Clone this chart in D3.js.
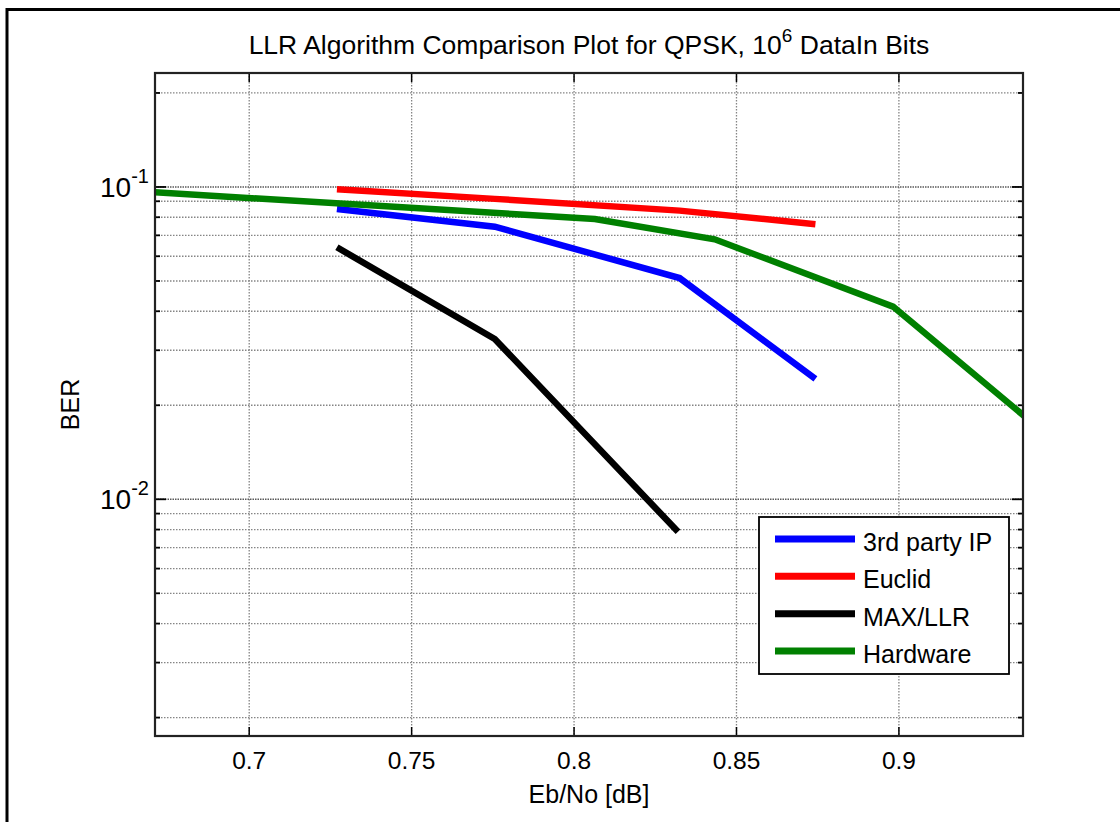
<!DOCTYPE html>
<html>
<head>
<meta charset="utf-8">
<script src="https://cdn.jsdelivr.net/npm/d3@7"></script>
<style>
  html, body { margin: 0; padding: 0; background: #fff; }
  svg { display: block; }
  text { font-family: "Liberation Sans", Arial, Helvetica, sans-serif; fill: #000; }
</style>
</head>
<body>
<svg id="chart" width="1120" height="822"></svg>
<script>
// BER measurements per LLR algorithm
const ipX = [0.7270, 0.7756, 0.8325, 0.8743];
const ipY = [0.0850, 0.0746, 0.0511, 0.0243];

const euclidX = [0.7270, 0.7756, 0.8325, 0.8743];
const euclidY = [0.0983, 0.0916, 0.0840, 0.0760];

const maxLlrX = [0.7270, 0.7756, 0.8320];
const maxLlrY = [0.0641, 0.0326, 0.00787];

const hardwareX = [0.6500, 0.8064, 0.8433, 0.8982, 0.9500];
const hardwareY = [0.0991, 0.0790, 0.0680, 0.0414, 0.0147];

const seriesNames = ["3rd party IP", "Euclid", "MAX/LLR", "Hardware"];
const seriesColors = ["#0000ff", "#ff0000", "#000000", "#008000"];

const xTicks = [0.7, 0.75, 0.8, 0.85, 0.9];
const xTickLabels = ["0.7", "0.75", "0.8", "0.85", "0.9"];
const yMajorTicks = [0.01, 0.1];
const yMajorExponents = ["-2", "-1"];
const yMinorTicks = [0.002, 0.003, 0.004, 0.005, 0.006, 0.007, 0.008, 0.009,
                     0.02, 0.03, 0.04, 0.05, 0.06, 0.07, 0.08, 0.09, 0.2];

const titleMain = "LLR Algorithm Comparison Plot for QPSK, 10";
const titleSup = "6";
const titleTail = " DataIn Bits";
const xLabel = "Eb/No [dB]";
const yLabel = "BER";

const svg = d3.select("#chart");
const W = 1120, H = 822;
const box = { left: 155, top: 73, right: 1023, bottom: 736 };

// figure frame
svg.append("rect")
  .attr("x", 7).attr("y", 9.5)
  .attr("width", W + 20).attr("height", H + 20)
  .attr("fill", "#fff").attr("stroke", "#000").attr("stroke-width", 3);

const x = d3.scaleLinear().domain([0.6710, 0.9382]).range([box.left, box.right]);
const y = d3.scaleLog().domain([0.001746, 0.2317]).range([box.bottom, box.top]);

// grid
const grid = svg.append("g");
grid.selectAll("line.vx").data(xTicks).join("line")
  .attr("x1", d => x(d)).attr("x2", d => x(d))
  .attr("y1", box.top).attr("y2", box.bottom)
  .attr("stroke", "#858585").attr("stroke-width", 1.3).attr("stroke-dasharray", "1.5,1.5");
grid.selectAll("line.hm").data(yMinorTicks).join("line")
  .attr("x1", box.left).attr("x2", box.right)
  .attr("y1", d => y(d)).attr("y2", d => y(d))
  .attr("stroke", "#858585").attr("stroke-width", 1.3).attr("stroke-dasharray", "1.5,1.5");
grid.selectAll("line.hM").data(yMajorTicks).join("line")
  .attr("x1", box.left).attr("x2", box.right)
  .attr("y1", d => y(d)).attr("y2", d => y(d))
  .attr("stroke", "#5a5a5a").attr("stroke-width", 1.5).attr("stroke-dasharray", "1.5,1");

// data lines
svg.append("clipPath").attr("id", "plotClip")
  .append("rect").attr("x", box.left).attr("y", box.top)
  .attr("width", box.right - box.left).attr("height", box.bottom - box.top);

const allSeries = [
  { xs: ipX, ys: ipY },
  { xs: euclidX, ys: euclidY },
  { xs: maxLlrX, ys: maxLlrY },
  { xs: hardwareX, ys: hardwareY }
];
const line = d3.line().x(d => x(d[0])).y(d => y(d[1]));
const plot = svg.append("g").attr("clip-path", "url(#plotClip)");
allSeries.forEach((s, i) => {
  plot.append("path")
    .datum(s.xs.map((v, k) => [v, s.ys[k]]))
    .attr("d", line)
    .attr("fill", "none")
    .attr("stroke", seriesColors[i])
    .attr("stroke-width", 6.5)
    .attr("stroke-linejoin", "miter")
    .attr("stroke-linecap", "butt");
});

// axes (box on, ticks inward on all four sides)
const axisG = svg.append("g");
const majorLen = 9, minorLen = 5;
axisG.selectAll("line.xb").data(xTicks).join("line")
  .attr("x1", d => x(d)).attr("x2", d => x(d))
  .attr("y1", box.bottom).attr("y2", box.bottom - majorLen)
  .attr("stroke", "#000").attr("stroke-width", 1.5);
axisG.selectAll("line.xt").data(xTicks).join("line")
  .attr("x1", d => x(d)).attr("x2", d => x(d))
  .attr("y1", box.top).attr("y2", box.top + majorLen)
  .attr("stroke", "#000").attr("stroke-width", 1.5);
[[box.left, 1], [box.right, -1]].forEach(([x0, dir]) => {
  axisG.selectAll(null).data(yMajorTicks).join("line")
    .attr("x1", x0).attr("x2", x0 + dir * 11)
    .attr("y1", d => y(d)).attr("y2", d => y(d))
    .attr("stroke", "#000").attr("stroke-width", 1.8);
  axisG.selectAll(null).data(yMinorTicks).join("line")
    .attr("x1", x0).attr("x2", x0 + dir * minorLen)
    .attr("y1", d => y(d)).attr("y2", d => y(d))
    .attr("stroke", "#000").attr("stroke-width", 1.8);
});
axisG.append("rect")
  .attr("x", box.left).attr("y", box.top)
  .attr("width", box.right - box.left).attr("height", box.bottom - box.top)
  .attr("fill", "none").attr("stroke", "#222").attr("stroke-width", 2.2);

// tick labels
svg.append("g").selectAll("text").data(xTicks).join("text")
  .attr("x", d => x(d)).attr("y", 769)
  .attr("text-anchor", "middle").attr("font-size", 24.5)
  .text((d, i) => xTickLabels[i]);

const yl = svg.append("g").selectAll("text").data(yMajorTicks).join("text")
  .attr("x", 149).attr("y", d => y(d) + 10)
  .attr("text-anchor", "end").attr("font-size", 28);
yl.append("tspan").text("10");
yl.append("tspan").attr("font-size", 20).attr("dy", -14).text((d, i) => yMajorExponents[i]);

// axis labels
svg.append("text").attr("x", (box.left + box.right) / 2).attr("y", 803)
  .attr("text-anchor", "middle").attr("font-size", 25).text(xLabel);
svg.append("text")
  .attr("transform", `translate(79, ${(box.top + box.bottom) / 2}) rotate(-90)`)
  .attr("text-anchor", "middle").attr("font-size", 25).text(yLabel);

// title
const t = svg.append("text").attr("x", (box.left + box.right) / 2).attr("y", 54)
  .attr("text-anchor", "middle").attr("font-size", 26.5);
t.append("tspan").text(titleMain);
t.append("tspan").attr("font-size", 19).attr("dy", -12).text(titleSup);
t.append("tspan").attr("dy", 12).text(titleTail);

// legend
const lg = svg.append("g");
lg.append("rect").attr("x", 759).attr("y", 517).attr("width", 250).attr("height", 157)
  .attr("fill", "#fff").attr("stroke", "#000").attr("stroke-width", 1.8);
const rowY = d3.scalePoint().domain(seriesNames).range([539, 651]);
seriesNames.forEach((name, i) => {
  lg.append("line").attr("x1", 775).attr("x2", 855)
    .attr("y1", rowY(name)).attr("y2", rowY(name))
    .attr("stroke", seriesColors[i]).attr("stroke-width", 7);
  lg.append("text").attr("x", 863).attr("y", rowY(name) + 12)
    .attr("font-size", 25).text(name);
});
</script>
</body>
</html>
